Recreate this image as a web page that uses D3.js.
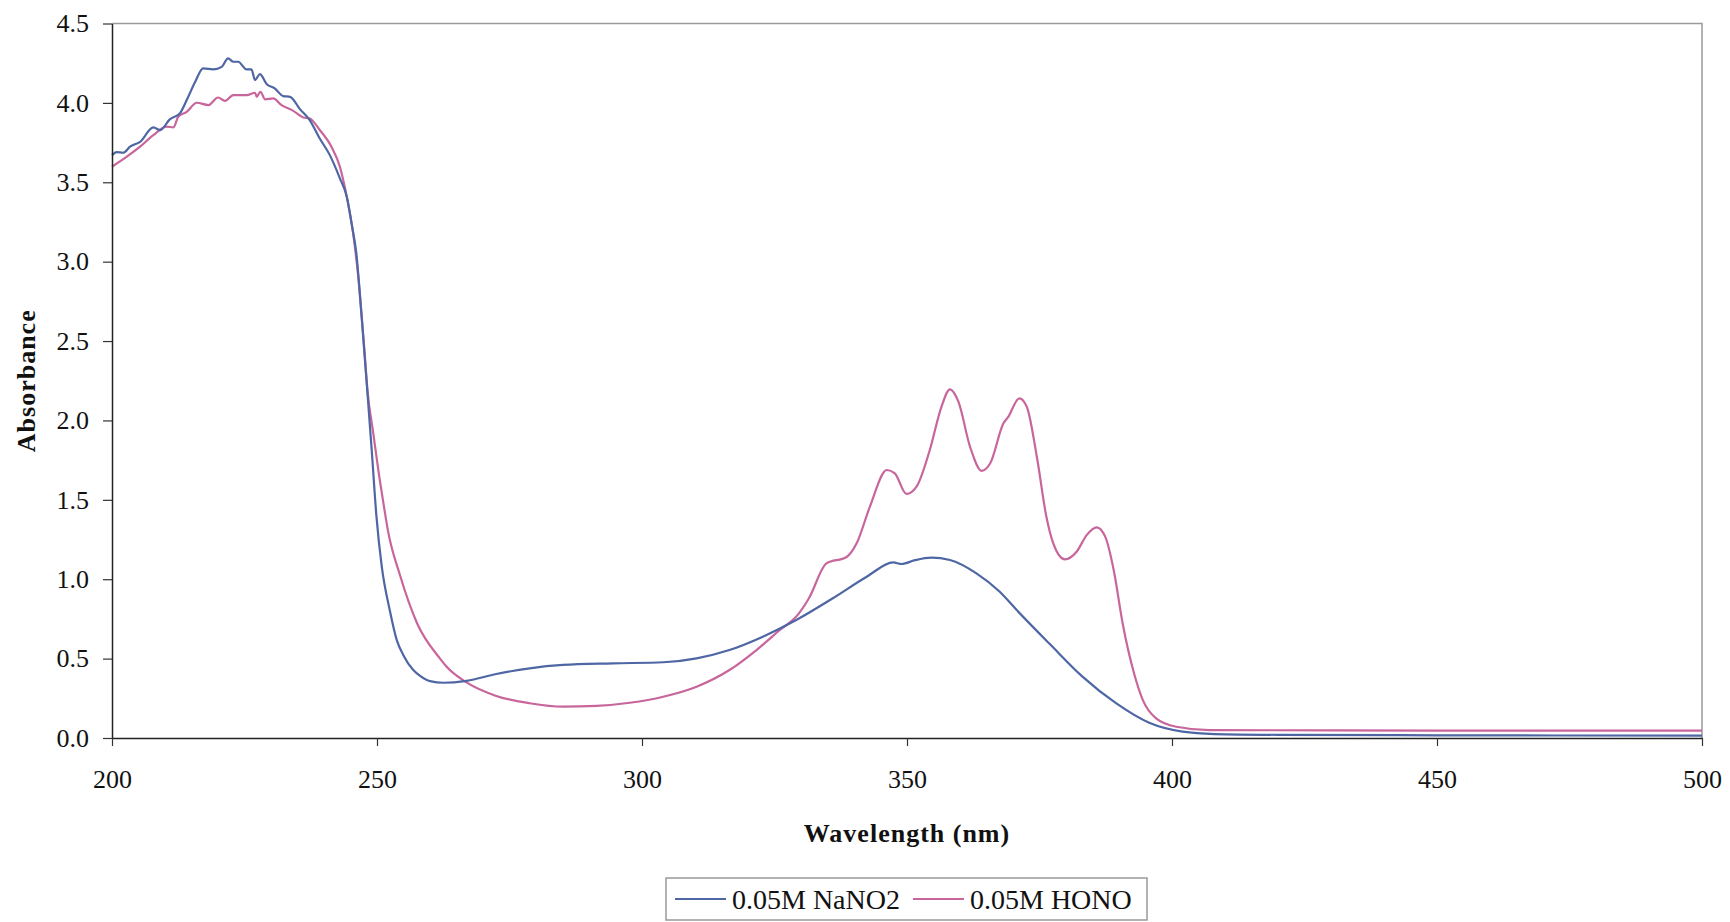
<!DOCTYPE html>
<html>
<head>
<meta charset="utf-8">
<script src="https://cdn.jsdelivr.net/npm/d3@7"></script>
<style>
  body { margin: 0; background: #fff; }
  svg text { font-family: "Liberation Serif", "Times New Roman", serif; fill: #111; }
</style>
</head>
<body>
<svg id="chart" width="1730" height="922"></svg>
<script>
// NaNO2 spectrum (wavelength nm, absorbance)
var nanoWl = [200.0, 200.9, 202.1, 203.4, 205.3, 207.8, 209.1, 210.9, 212.8, 214.1, 215.7, 217.2, 219.1, 220.7,
  221.9, 222.9, 223.8, 225.4, 226.3, 227.0, 227.9, 229.2, 230.7, 232.3, 233.6, 235.5, 237.3, 239.2, 241.1, 243.0,
  244.3, 245.2, 246.1, 247.1, 248.3, 249.0, 249.9, 250.9, 252.4, 253.7, 255.0, 256.8, 258.2, 260.0, 262.5, 266.9,
  272.5, 278.8, 285.1, 294.5, 304.0, 310.3, 316.5, 322.8, 329.1, 336.0, 342.4, 347.4, 349.0, 351.5, 354.6, 358.1,
  363.1, 367.5, 370.7, 377.0, 383.0, 389.5, 395.7, 402.0, 408.0, 420.0, 450.0, 500.0];
var nanoAbs = [3.67, 3.69, 3.686, 3.724, 3.755, 3.846, 3.829, 3.896, 3.934, 4.018, 4.133, 4.217, 4.211, 4.227,
  4.28, 4.259, 4.259, 4.211, 4.211, 4.144, 4.181, 4.118, 4.091, 4.043, 4.038, 3.959, 3.892, 3.776, 3.671, 3.525,
  3.409, 3.241, 3.052, 2.653, 2.128, 1.814, 1.394, 1.079, 0.806, 0.62, 0.52, 0.43, 0.39, 0.358, 0.348, 0.36,
  0.403, 0.439, 0.46, 0.47, 0.477, 0.502, 0.554, 0.638, 0.743, 0.88, 1.016, 1.106, 1.096, 1.12, 1.136, 1.121,
  1.037, 0.921, 0.806, 0.59, 0.39, 0.218, 0.096, 0.04, 0.025, 0.02, 0.017, 0.015];

// HONO spectrum
var honoWl = [200.0, 202.8, 205.3, 207.8, 210.3, 211.6, 212.5, 214.1, 216.0, 218.2, 220.0, 221.3, 222.9, 225.4,
  227.0, 227.3, 228.0, 228.9, 230.4, 232.0, 234.2, 236.1, 237.3, 239.2, 241.4, 243.0, 244.3, 245.5, 246.4, 247.6,
  248.2, 249.3, 250.5, 251.3, 252.1, 254.3, 257.6, 261.9, 263.1, 266.9, 272.5, 278.8, 285.1, 291.4, 297.7, 304.0,
  310.3, 316.5, 321.6, 326.0, 329.5, 331.5, 334.8, 338.6, 340.5, 343.0, 346.2, 347.7, 349.9, 351.8, 354.3, 356.5,
  358.1, 359.7, 361.9, 364.1, 365.7, 368.2, 369.1, 371.2, 372.6, 374.5, 376.3, 377.6, 379.8, 382.0, 383.9, 385.8,
  387.4, 389.0, 390.7, 392.9, 394.5, 397.0, 400.8, 407.0, 450.0, 500.0];
var honoAbs = [3.598, 3.661, 3.724, 3.797, 3.85, 3.846, 3.913, 3.944, 4.001, 3.986, 4.034, 4.013, 4.049, 4.049,
  4.064, 4.038, 4.07, 4.022, 4.028, 3.986, 3.95, 3.908, 3.902, 3.829, 3.724, 3.598, 3.409, 3.178, 2.926, 2.454,
  2.19, 1.919, 1.63, 1.46, 1.30, 1.03, 0.72, 0.50, 0.45, 0.35, 0.265, 0.219, 0.197, 0.202, 0.222, 0.26,
  0.323, 0.428, 0.554, 0.68, 0.78, 0.88, 1.1, 1.14, 1.226, 1.457, 1.688, 1.667, 1.537, 1.583, 1.814, 2.086,
  2.196, 2.118, 1.834, 1.683, 1.73, 1.982, 2.023, 2.139, 2.086, 1.771, 1.394, 1.226, 1.125, 1.173, 1.278, 1.327,
  1.268, 1.058, 0.72, 0.4, 0.239, 0.124, 0.071, 0.05, 0.047, 0.046];

var seriesNames = ["0.05M NaNO2", "0.05M HONO"];
var seriesColors = ["#4e66a4", "#c8659b"];
var xTicks = [200, 250, 300, 350, 400, 450, 500];
var yTicks = [0, 0.5, 1.0, 1.5, 2.0, 2.5, 3.0, 3.5, 4.0, 4.5];

var svg = d3.select("svg#chart");
var margin = {left: 112, right: 28, top: 23.5, bottom: 184};
var width = +svg.attr("width") - margin.left - margin.right;
var height = +svg.attr("height") - margin.top - margin.bottom;

var x = d3.scaleLinear().domain([200, 500]).range([0, width]);
var y = d3.scaleLinear().domain([0, 4.5]).range([height, 0]);

var plot = svg.append("g")
    .attr("transform", "translate(" + margin.left + "," + margin.top + ")");

// top and right frame in grey
plot.append("path")
    .attr("d", "M0,0H" + width + "V" + height)
    .attr("fill", "none")
    .attr("stroke", "#9a9a9a")
    .attr("stroke-width", 1.5);

var series = [
  {name: seriesNames[0], color: seriesColors[0], pts: d3.zip(nanoWl, nanoAbs)},
  {name: seriesNames[1], color: seriesColors[1], pts: d3.zip(honoWl, honoAbs)}
];

var line = d3.line()
    .x(function(d) { return x(d[0]); })
    .y(function(d) { return y(d[1]); })
    .curve(d3.curveMonotoneX);

// draw HONO first so NaNO2 sits on top like the source
plot.selectAll("path.series")
    .data(series.slice().reverse())
    .enter().append("path")
    .attr("class", "series")
    .attr("d", function(d) { return line(d.pts); })
    .attr("fill", "none")
    .attr("stroke", function(d) { return d.color; })
    .attr("stroke-width", 2.2)
    .attr("stroke-linejoin", "round");

var yAxis = d3.axisLeft(y)
    .tickValues(yTicks)
    .tickFormat(d3.format(".1f"))
    .tickSizeInner(9)
    .tickSizeOuter(0)
    .tickPadding(14);

var xAxis = d3.axisBottom(x)
    .tickValues(xTicks)
    .tickFormat(d3.format("d"))
    .tickSizeInner(8)
    .tickSizeOuter(0)
    .tickPadding(24);

var gy = plot.append("g").call(yAxis);
var gx = plot.append("g").attr("transform", "translate(0," + height + ")").call(xAxis);

[gx, gy].forEach(function(g) {
  g.select(".domain").attr("stroke", "#222").attr("stroke-width", 1.5);
  g.selectAll(".tick line").attr("stroke", "#333").attr("stroke-width", 1.2);
  g.selectAll(".tick text")
    .style("font-family", '"Liberation Serif", "Times New Roman", serif')
    .style("font-size", "26px")
    .attr("fill", "#111");
});

// axis titles
svg.append("text")
    .attr("x", margin.left + width / 2)
    .attr("y", 842)
    .attr("text-anchor", "middle")
    .style("font-size", "26px")
    .style("font-weight", "bold")
    .style("letter-spacing", "1px")
    .text("Wavelength (nm)");

svg.append("text")
    .attr("transform", "translate(35," + (margin.top + height / 2) + ") rotate(-90)")
    .attr("text-anchor", "middle")
    .style("font-size", "26px")
    .style("font-weight", "bold")
    .style("letter-spacing", "1px")
    .text("Absorbance");

// legend
var legend = svg.append("g").attr("transform", "translate(666,878)");
legend.append("rect")
    .attr("width", 481)
    .attr("height", 42)
    .attr("fill", "#fff")
    .attr("stroke", "#9a9a9a")
    .attr("stroke-width", 1.5);

var legendX = [9, 247];
var item = legend.selectAll("g.item")
    .data(series)
    .enter().append("g")
    .attr("class", "item")
    .attr("transform", function(d, i) { return "translate(" + legendX[i] + ",0)"; });

item.append("line")
    .attr("x1", 0).attr("x2", 51)
    .attr("y1", 21).attr("y2", 21)
    .attr("stroke", function(d) { return d.color; })
    .attr("stroke-width", 2.2);

item.append("text")
    .attr("x", 57)
    .attr("y", 31)
    .style("font-size", "28px")
    .text(function(d) { return d.name; });
</script>
</body>
</html>
